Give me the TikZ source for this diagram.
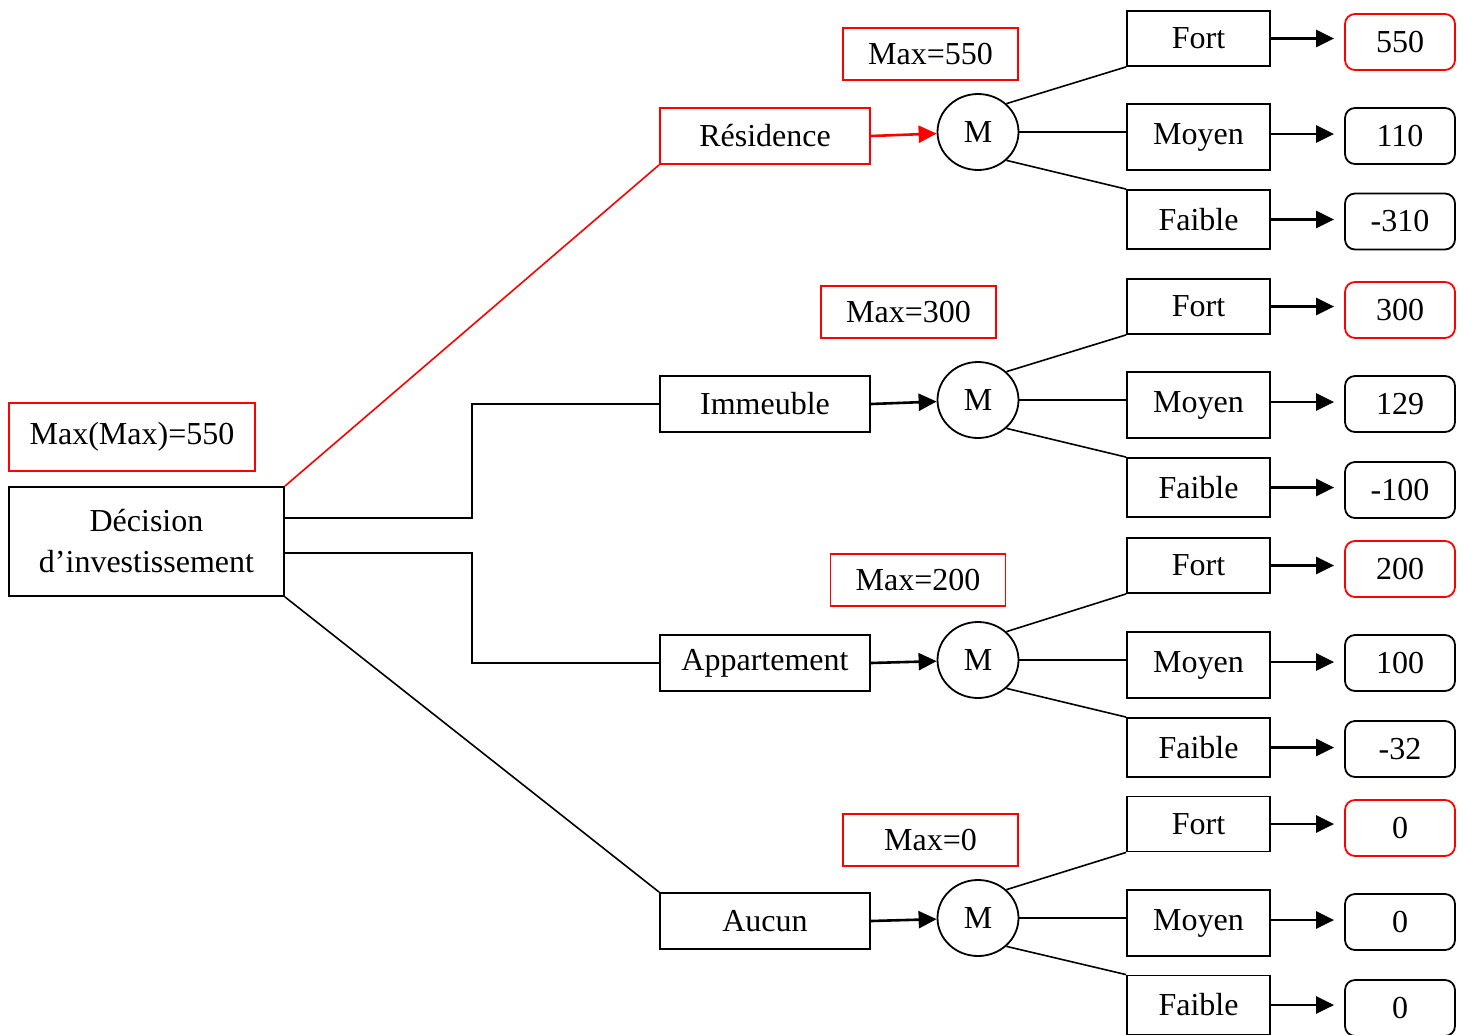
\documentclass[tikz,border=0pt]{standalone}
\usepackage{fontspec}
\setmainfont{Liberation Serif}
\usetikzlibrary{arrows.meta,shapes.geometric,calc}
\begin{document}
\begin{tikzpicture}[x=0.5pt,y=-0.5pt,
  font=\fontsize{16pt}{20.5pt}\selectfont,
  base/.style={draw,line width=0.9pt,inner sep=0pt,align=center},
  lvone/.style={base,minimum width=105pt,minimum height=28pt},
  maxbox/.style={base,draw=red,minimum width=87.5pt,minimum height=26pt},
  chance/.style={base,ellipse,minimum width=40.5pt,minimum height=38pt},
  outc/.style={base,minimum width=71.5pt},
  valbox/.style={base,rounded corners=5pt,minimum width=55pt,minimum height=28pt},
  link/.style={line width=0.8pt},
  arr/.style={line width=1.3pt,-{Triangle[length=9pt,width=8.5pt]}},
]
\useasboundingbox (0,0) rectangle (1467,1034);
\begin{scope}
\clip (0,0) rectangle (1467,1034);
% root
\node[base,draw=red,minimum width=123pt,minimum height=34pt] (mm) at (132,437) {Max(Max)=550};
\node[base,minimum width=137.5pt,minimum height=54.5pt] (d) at (146.5,541.5) {Décision\\d’investissement};
% level 1
\node[lvone,draw=red] (r) at (765,136) {Résidence};
\node[lvone] (i) at (765,404) {Immeuble};
\node[lvone] (a) at (765,663) {Appartement};
\node[lvone] (u) at (765,921) {Aucun};
% max boxes
\node[maxbox] (x1) at (930.5,54) {Max=550};
\node[maxbox] (x2) at (908.5,312) {Max=300};
\node[maxbox] (x3) at (918,580) {Max=200};
\node[maxbox] (x4) at (930.5,840) {Max=0};
% chance nodes
\node[chance] (m1) at (978,132) {M};
\node[chance] (m2) at (978,400) {M};
\node[chance] (m3) at (978,660) {M};
\node[chance] (m4) at (978,918) {M};
% outcomes
\foreach \g/\fy/\my/\ay in {1/38.5/137/219.5, 2/306.5/405/487.5, 3/565.5/665/747.5, 4/824/923/1005}{
  \node[outc,minimum height=27.5pt] (f\g) at (1198.5,\fy) {Fort};
  \node[outc,minimum height=33pt] (o\g) at (1198.5,\my) {Moyen};
  \node[outc,minimum height=29.5pt] (b\g) at (1198.5,\ay) {Faible};
  \draw[link] (m\g.45) -- (f\g.south west);
  \draw[link] (m\g.east) -- (m\g.east -| o\g.west);
  \draw[link] (m\g.-45) -- (b\g.north west);
}
% values
\node[valbox,draw=red] (v11) at (1400,42) {550};
\node[valbox] (v12) at (1400,136) {110};
\node[valbox] (v13) at (1400,221.5) {-310};
\node[valbox,draw=red] (v21) at (1400,310) {300};
\node[valbox] (v22) at (1400,404) {129};
\node[valbox] (v23) at (1400,490) {-100};
\node[valbox,draw=red] (v31) at (1400,569) {200};
\node[valbox] (v32) at (1400,663) {100};
\node[valbox] (v33) at (1400,749) {-32};
\node[valbox,draw=red] (v41) at (1400,828) {0};
\node[valbox] (v42) at (1400,922) {0};
\node[valbox] (v43) at (1400,1008) {0};
\foreach \g in {1,2,3,4}{
  \draw[arr] (f\g.east) -- ([xshift=-5pt]f\g.east -| v\g1.west);
  \draw[arr] ([yshift=1.5pt]o\g.east) -- ([xshift=-5pt,yshift=1.5pt]o\g.east -| v\g2.west);
  \draw[arr] (b\g.east) -- ([xshift=-5pt]b\g.east -| v\g3.west);
}
% level1 -> chance
\draw[arr,red] (r.east) -- (m1);
\draw[arr] (i.east) -- (m2);
\draw[arr] (a.east) -- (m3);
\draw[arr] (u.east) -- (m4);
% root -> level1
\draw[link,red] (d.north east) -- (r.south west);
\draw[link] ([yshift=11.75pt]d.east) -- ++(187,0) |- (i.west);
\draw[link] ([yshift=-5.75pt]d.east) -- ++(187,0) |- (a.west);
\draw[link] (d.south east) -- (u.north west);
\end{scope}
\end{tikzpicture}
\end{document}
